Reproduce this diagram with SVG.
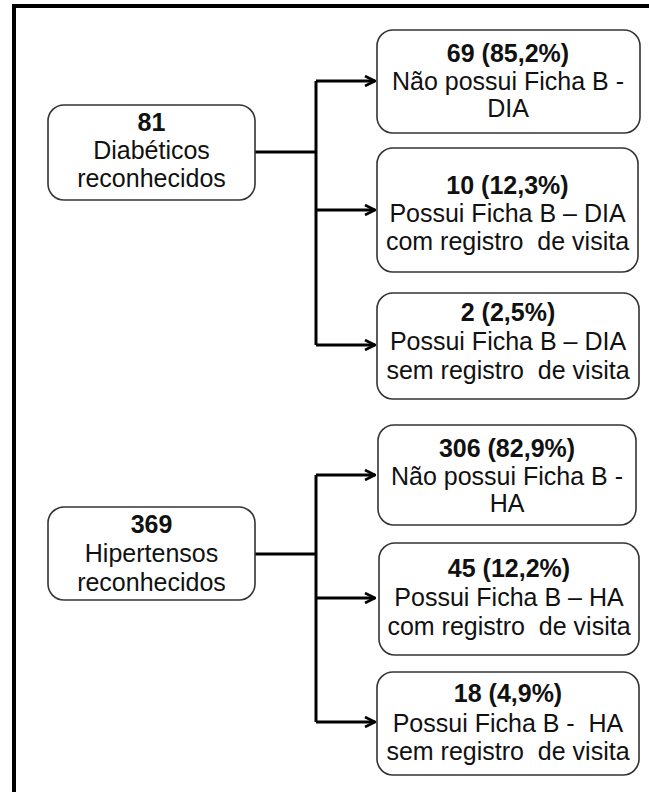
<svg xmlns="http://www.w3.org/2000/svg" width="649" height="792" viewBox="0 0 649 792">
<style>
  .box { fill: #ffffff; stroke: #333333; stroke-width: 1.6; }
  .t { font-family: "Liberation Sans", Arial, sans-serif; font-size: 25px; fill: #111111; text-anchor: middle; white-space: pre; }
  .b { font-weight: bold; }
  .c { fill: none; stroke: #000000; stroke-width: 3; }
  .frame { fill: none; stroke: #000000; stroke-width: 4; }
</style>
<defs>
  <marker id="arr" viewBox="0 0 12 12" refX="11" refY="6" markerWidth="12" markerHeight="12" markerUnits="userSpaceOnUse" orient="auto">
    <path d="M1,1 L11,6 L1,11" fill="none" stroke="#000" stroke-width="2.6"/>
  </marker>
</defs>
<rect width="649" height="792" fill="#ffffff"/>
<path class="frame" d="M14,792 L14,6 L649,6"/>

<g id="connectors">
  <path class="c" d="M255,152 L316,152"/>
  <path class="c" d="M316,81 L316,345"/>
  <path class="c" d="M316,81 L375,81" marker-end="url(#arr)"/>
  <path class="c" d="M316,210 L375,210" marker-end="url(#arr)"/>
  <path class="c" d="M316,345 L375,345" marker-end="url(#arr)"/>
  <path class="c" d="M255,554 L316,554"/>
  <path class="c" d="M316,475 L316,722"/>
  <path class="c" d="M316,475 L375,475" marker-end="url(#arr)"/>
  <path class="c" d="M316,598 L375,598" marker-end="url(#arr)"/>
  <path class="c" d="M316,722 L375,722" marker-end="url(#arr)"/>
</g>

<g id="diabeticos">
  <rect class="box" x="48" y="105" width="207" height="95" rx="16"/>
  <text class="t b" x="151.5" y="131">81</text>
  <text class="t" x="151.5" y="159">Diabéticos</text>
  <text class="t" x="151.5" y="187">reconhecidos</text>
</g>

<g id="dia-nao-possui">
  <rect class="box" x="377" y="30" width="263" height="103" rx="16"/>
  <text class="t b" x="508" y="62">69 (85,2%)</text>
  <text class="t" x="508" y="90">Não possui Ficha B -</text>
  <text class="t" x="508" y="117">DIA</text>
</g>

<g id="dia-com-visita">
  <rect class="box" x="377" y="148" width="261" height="124" rx="16"/>
  <text class="t b" x="507.5" y="194">10 (12,3%)</text>
  <text class="t" x="507.5" y="222">Possui Ficha B – DIA</text>
  <text class="t" x="507.5" y="250" xml:space="preserve">com registro  de visita</text>
</g>

<g id="dia-sem-visita">
  <rect class="box" x="377" y="293" width="262" height="106" rx="16"/>
  <text class="t b" x="508" y="321">2 (2,5%)</text>
  <text class="t" x="508" y="350">Possui Ficha B – DIA</text>
  <text class="t" x="508" y="379" xml:space="preserve">sem registro  de visita</text>
</g>

<g id="hipertensos">
  <rect class="box" x="48" y="507" width="207" height="93" rx="16"/>
  <text class="t b" x="151.5" y="533">369</text>
  <text class="t" x="151.5" y="562">Hipertensos</text>
  <text class="t" x="151.5" y="591">reconhecidos</text>
</g>

<g id="ha-nao-possui">
  <rect class="box" x="378" y="425" width="258" height="100" rx="16"/>
  <text class="t b" x="507" y="457">306 (82,9%)</text>
  <text class="t" x="507" y="485">Não possui Ficha B -</text>
  <text class="t" x="507" y="512">HA</text>
</g>

<g id="ha-com-visita">
  <rect class="box" x="379" y="543" width="260" height="112" rx="16"/>
  <text class="t b" x="509" y="577">45 (12,2%)</text>
  <text class="t" x="509" y="606">Possui Ficha B – HA</text>
  <text class="t" x="509" y="635" xml:space="preserve">com registro  de visita</text>
</g>

<g id="ha-sem-visita">
  <rect class="box" x="377" y="672" width="262" height="103" rx="16"/>
  <text class="t b" x="508" y="702">18 (4,9%)</text>
  <text class="t" x="508" y="732" xml:space="preserve">Possui Ficha B -  HA</text>
  <text class="t" x="508" y="760" xml:space="preserve">sem registro  de visita</text>
</g>
</svg>
